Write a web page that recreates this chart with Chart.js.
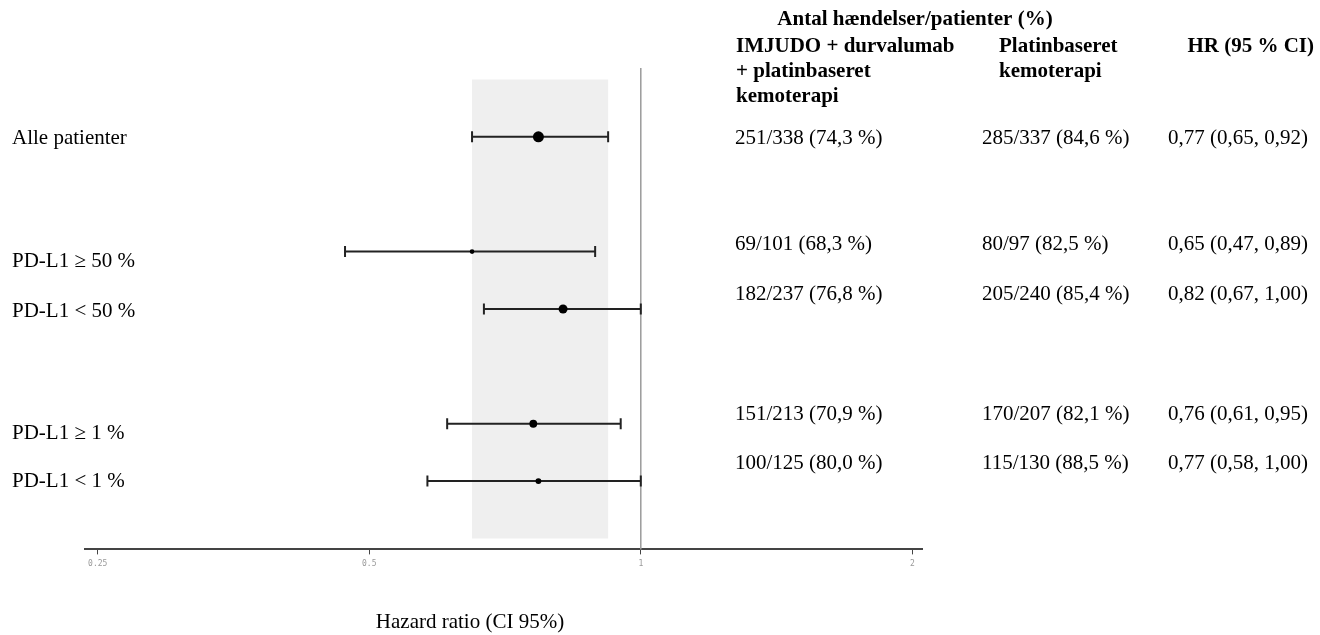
<!DOCTYPE html>
<html>
<head>
<meta charset="utf-8">
<script src="https://cdn.jsdelivr.net/npm/chart.js@4.4.1/dist/chart.umd.min.js"></script>
<style>
  html, body { margin: 0; padding: 0; background: #fff; }
</style>
</head>
<body>
<canvas id="forestChart" width="1320" height="635"></canvas>
<script>
// data
const rowLabels = ['Alle patienter', 'PD-L1 \u2265 50 %', 'PD-L1 < 50 %', 'PD-L1 \u2265 1 %', 'PD-L1 < 1 %'];
const rowSlots = [0, 2, 3, 5, 6]; // row order, with empty rows between the groups
const hazardRatios = [0.77, 0.65, 0.82, 0.76, 0.77];
const ciLower = [0.65, 0.47, 0.67, 0.61, 0.58];
const ciUpper = [0.92, 0.89, 1.00, 0.95, 1.00];
const imjudoEvents = ['251/338 (74,3 %)', '69/101 (68,3 %)', '182/237 (76,8 %)', '151/213 (70,9 %)', '100/125 (80,0 %)'];
const chemoEvents = ['285/337 (84,6 %)', '80/97 (82,5 %)', '205/240 (85,4 %)', '170/207 (82,1 %)', '115/130 (88,5 %)'];
const hrTexts = ['0,77 (0,65, 0,92)', '0,65 (0,47, 0,89)', '0,82 (0,67, 1,00)', '0,76 (0,61, 0,95)', '0,77 (0,58, 1,00)'];
const xTickValues = [0.25, 0.5, 1, 2];

const serif = '"Liberation Serif", "Times New Roman", serif';

// grey band for the overall CI, line at HR = 1, then the whiskers
const forestPlugin = {
    id: 'forestPlugin',
    beforeDatasetsDraw(chart) {
        const { ctx, chartArea, scales: { x, y } } = chart;
        ctx.save();
        // band
        ctx.fillStyle = '#efefef';
        const bx0 = x.getPixelForValue(ciLower[0]);
        const bx1 = x.getPixelForValue(ciUpper[0]);
        const by0 = y.getPixelForValue(-1);
        const by1 = y.getPixelForValue(7);
        ctx.fillRect(bx0, by0, bx1 - bx0, by1 - by0);
        // reference line
        ctx.strokeStyle = '#9a9a9a';
        ctx.lineWidth = 1.5;
        const x1 = x.getPixelForValue(1);
        ctx.beginPath();
        ctx.moveTo(x1, chartArea.top);
        ctx.lineTo(x1, chartArea.bottom);
        ctx.stroke();
        // whiskers
        ctx.strokeStyle = '#222';
        ctx.lineWidth = 2;
        rowSlots.forEach((slot, i) => {
            const py = y.getPixelForValue(slot);
            const lx = x.getPixelForValue(ciLower[i]);
            const rx = x.getPixelForValue(ciUpper[i]);
            ctx.beginPath();
            ctx.moveTo(lx, py);
            ctx.lineTo(rx, py);
            ctx.moveTo(lx, py - 5.5);
            ctx.lineTo(lx, py + 5.5);
            ctx.moveTo(rx, py - 5.5);
            ctx.lineTo(rx, py + 5.5);
            ctx.stroke();
        });
        ctx.restore();
    }
};

// row labels, table columns, headers and axis title
const textPlugin = {
    id: 'textPlugin',
    afterDraw(chart) {
        const { ctx, scales: { y } } = chart;
        const labelShift = [2, 10, 2, 10, 0];
        const tableShift = [2, -7, -15, -9, -18];
        ctx.save();
        ctx.fillStyle = '#000';
        ctx.textBaseline = 'middle';
        ctx.font = '21px ' + serif;
        ctx.textAlign = 'left';
        rowSlots.forEach((slot, i) => {
            const py = y.getPixelForValue(slot);
            ctx.fillText(rowLabels[i], 12, py + labelShift[i]);
            ctx.fillText(imjudoEvents[i], 735, py + tableShift[i]);
            ctx.fillText(chemoEvents[i], 982, py + tableShift[i]);
            ctx.fillText(hrTexts[i], 1168, py + tableShift[i]);
        });

        ctx.font = 'bold 21px ' + serif;
        ctx.textAlign = 'center';
        ctx.fillText('Antal h\u00e6ndelser/patienter (%)', 915, 20);
        ctx.textAlign = 'left';
        ctx.fillText('IMJUDO + durvalumab', 736, 47);
        ctx.fillText('+ platinbaseret', 736, 72);
        ctx.fillText('kemoterapi', 736, 97);
        ctx.fillText('Platinbaseret', 999, 47);
        ctx.fillText('kemoterapi', 999, 72);
        ctx.textAlign = 'right';
        ctx.fillText('HR (95 % CI)', 1314, 47);

        ctx.font = '21px ' + serif;
        ctx.textAlign = 'center';
        ctx.fillText('Hazard ratio (CI 95%)', 470, 622);
        ctx.restore();
    }
};

const refW = Math.log(ciUpper[0] / ciLower[0]);

new Chart(document.getElementById('forestChart'), {
    type: 'scatter',
    data: {
        datasets: [{
            data: hazardRatios.map((v, i) => ({ x: v, y: rowSlots[i] })),
            backgroundColor: '#000',
            borderWidth: 0,
            // marker size shrinks with a wider CI
            pointRadius: (c) => {
                const i = c.dataIndex;
                const w = Math.log(ciUpper[i] / ciLower[i]);
                return 5.5 * Math.pow(refW / w, 1.4);
            }
        }]
    },
    options: {
        responsive: false,
        animation: false,
        layout: { padding: { left: 85, right: 398, top: 68, bottom: 61 } },
        plugins: { legend: { display: false }, tooltip: { enabled: false } },
        scales: {
            x: {
                type: 'logarithmic',
                min: 0.242,
                max: 2.05,
                afterBuildTicks: (scale) => {
                    scale.ticks = xTickValues.map(v => ({ value: v }));
                },
                ticks: {
                    callback: (v) => String(v),
                    autoSkip: false,
                    maxRotation: 0,
                    padding: 5,
                    color: '#999',
                    font: { family: '"DejaVu Sans Mono", monospace', size: 8 }
                },
                grid: { drawOnChartArea: false, drawTicks: true, tickLength: 5, color: '#444' },
                border: { color: '#444', width: 2 }
            },
            y: {
                type: 'linear',
                reverse: true,
                min: -1.2,
                max: 7.19,
                display: false
            }
        }
    },
    plugins: [forestPlugin, textPlugin]
});
</script>
</body>
</html>
